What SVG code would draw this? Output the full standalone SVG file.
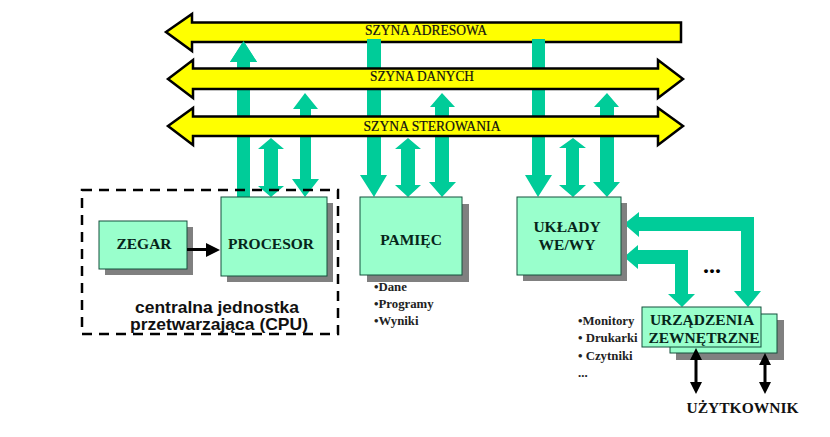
<svg xmlns="http://www.w3.org/2000/svg" width="830" height="437" viewBox="0 0 830 437">
<style>
text{font-family:"Liberation Serif","Times New Roman",serif;fill:#06251a}
.b{font-weight:bold;text-anchor:middle;font-size:15.5px}
.bus{text-anchor:middle;font-size:14px;fill:#111;stroke:#111;stroke-width:.2}
.li{font-weight:bold;font-size:12.8px;fill:#222}
.cpu{font-family:"Liberation Sans",Arial,sans-serif;font-weight:bold;font-size:16.500px;fill:#111}
.box{fill:#99ffcc;stroke:#14503c;stroke-width:1}
.sh{fill:#808080}
.t{fill:#00cc99}
.y{fill:#ffff00;stroke:#000;stroke-width:2.5}
</style>
<rect width="830" height="437" fill="#fff"/>
<g id="connectors">
<path class="t" d="M243.500 41L257 62H250V197H237V62H230Z"/>
<path class="t" d="M271 138L284 149H278V186H284L271 197L258 186H264V149H258Z"/>
<path class="t" d="M305 93L318 109H311V179H319L305 197L292 179H300V109H293Z"/>
<path class="t" d="M367 39H381V175H387L374 197L360 175H367Z"/>
<path class="t" d="M408 138L421 149H415V185H421L408 197L395 185H401V149H395Z"/>
<path class="t" d="M442 93L455 107H449V182H456L442 197L429 182H435V107H430Z"/>
<path class="t" d="M532 39H545V175H552L538 197L525 175H532Z"/>
<path class="t" d="M573 138L586 148H579V185H586L573 197L559 185H566V148H559Z"/>
<path class="t" d="M607 93L619 107H614V182H620L607 197L593 182H600V107H594Z"/>
<path class="t" d="M624 224L639 212V217H754V291H761L748 307L734 291H741V231H639V237Z"/>
<path class="t" d="M624 257L638 245V250H688V294H695L682 307L668 294H675V264H638V269Z"/>
</g>
<g id="bus-adresowa">
<path class="y" d="M166 32L192 14V22.500H681V42H192V51Z"/>
<text class="bus" x="426" y="35" textLength="122" lengthAdjust="spacingAndGlyphs">SZYNA ADRESOWA</text>
</g>
<g id="bus-danych">
<path class="y" d="M168 79L193 60V68.500H658V60L683 79L658 98V89H193V98Z"/>
<text class="bus" x="422" y="81" textLength="104" lengthAdjust="spacingAndGlyphs">SZYNA DANYCH</text>
</g>
<g id="bus-sterowania">
<path class="y" d="M168 126L193 108V116.500H658V108L683 126L658 145V136H193V145Z"/>
<text class="bus" x="432" y="131" textLength="137" lengthAdjust="spacingAndGlyphs">SZYNA STEROWANIA</text>
</g>
<g id="overlap">
<path class="t" d="M243.500 41L257 62H230Z"/>
<rect class="t" x="237" y="52" width="13" height="15"/>
<rect class="t" x="367" y="39" width="14" height="28"/>
<rect class="t" x="532" y="39" width="13" height="28"/>
</g>
<g id="zegar">
<rect class="sh" x="105" y="227" width="88" height="48"/>
<rect class="box" x="99" y="221" width="88" height="48"/>
<text class="b" x="144" y="249">ZEGAR</text>
</g>
<g id="procesor">
<rect class="sh" x="227" y="203" width="106" height="79"/>
<rect class="box" x="221" y="197" width="106" height="79"/>
<text class="b" x="271" y="249">PROCESOR</text>
</g>
<g id="clock-link">
<path d="M187 249.500H207" stroke="#000" stroke-width="3" fill="none"/>
<path d="M206 243L220 250L206 257Z" fill="#000"/>
</g>
<g id="cpu">
<rect x="82" y="190" width="256" height="144" fill="none" stroke="#000" stroke-width="2.500" stroke-dasharray="10 7"/>
<text class="cpu" x="135" y="313" textLength="164" lengthAdjust="spacingAndGlyphs">centralna jednostka</text>
<text class="cpu" x="130" y="330" textLength="178" lengthAdjust="spacingAndGlyphs">przetwarzająca (CPU)</text>
</g>
<g id="pamiec">
<rect class="sh" x="367" y="204" width="102" height="78"/>
<rect class="box" x="360" y="197" width="102" height="78"/>
<text class="b" x="411" y="245">PAMIĘC</text>
<text class="li" x="374" y="291">•Dane</text>
<text class="li" x="374" y="308">•Programy</text>
<text class="li" x="374" y="325">•Wyniki</text>
</g>
<g id="uklady">
<rect class="sh" x="523" y="203" width="104" height="78"/>
<rect class="box" x="517" y="197" width="104" height="78"/>
<text class="b" x="567" y="232">UKŁADY</text>
<text class="b" x="567" y="250">WE/WY</text>
</g>
<text x="712" y="273" font-size="24" font-weight="bold" text-anchor="middle" style="fill:#000">...</text>
<g id="urzadzenia">
<rect class="sh" x="676" y="320" width="108" height="40"/>
<rect class="box" x="670" y="314" width="107" height="39"/>
<rect class="box" x="642" y="307" width="119" height="40"/>
<text class="b" x="702" y="325">URZĄDZENIA</text>
<text class="b" x="704" y="343">ZEWNĘTRZNE</text>
<text class="li" x="578" y="325">•Monitory</text>
<text class="li" x="578" y="342">• Drukarki</text>
<text class="li" x="578" y="360">• Czytniki</text>
<text class="li" x="578" y="377">...</text>
</g>
<g id="user-links" fill="#000">
<path d="M696 348L702 360H697.500V382H702L696 394L690 382H694.500V360H690Z"/>
<path d="M765 353L771 365H766.500V382H771L765 394L759 382H763.500V365H759Z"/>
</g>
<g id="uzytkownik">
<text class="b" x="742.500" y="413" style="fill:#111">UŻYTKOWNIK</text>
</g>
</svg>
